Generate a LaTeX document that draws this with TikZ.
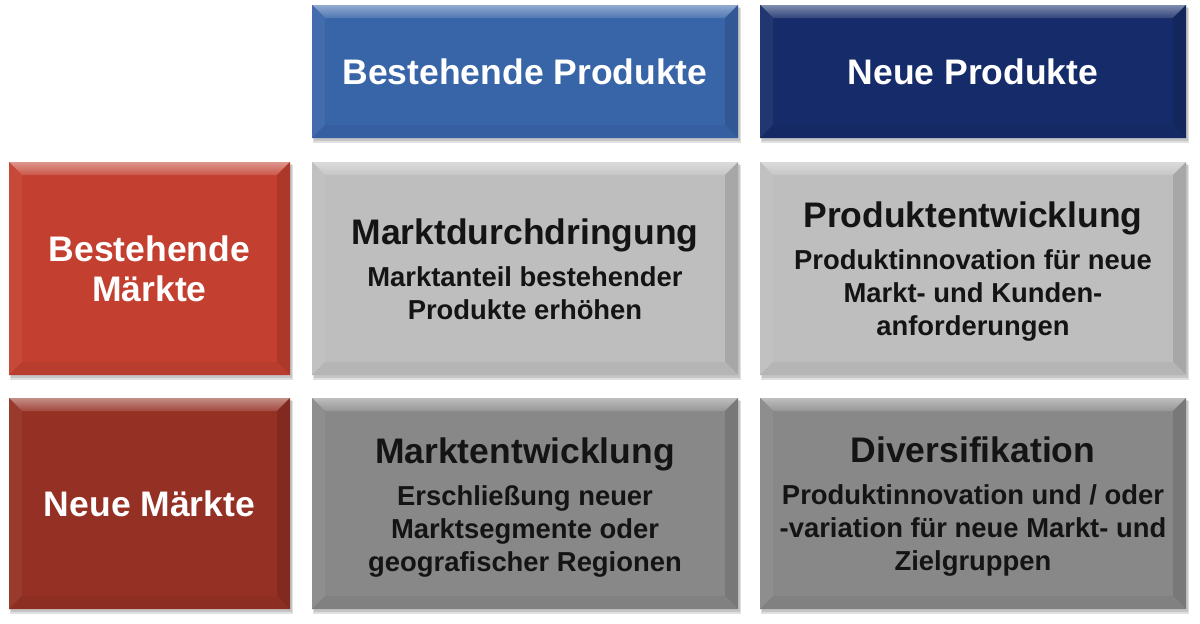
\documentclass[tikz,border=0pt]{standalone}
\usepackage{fontspec}
\setmainfont{Liberation Sans}

% colours of the matrix fields
\definecolor{hdrblue}{RGB}{56,100,168}
\definecolor{hdrnavy}{RGB}{22,44,106}
\definecolor{mktred}{RGB}{195,64,48}
\definecolor{mktdark}{RGB}{148,48,36}
\definecolor{celllight}{RGB}{190,190,190}
\definecolor{celldark}{RGB}{136,136,136}

\newcommand{\titlefont}{\fontsize{35.5}{42}\selectfont\bfseries}
\newcommand{\subfont}{\fontsize{27.4}{33}\selectfont\bfseries}

\tikzset{
    headtext/.style={text=white, align=center, font=\titlefont},
    celltext/.style={text=black!92, align=center, font=\subfont}
}

\begin{document}
\begin{tikzpicture}[x=1pt, y=-1pt]
    \useasboundingbox (0,0) rectangle (1200,624);
    \def\bev{13}

    % bevelled boxes: x1/y1/x2/y2/colour
    \foreach \xa/\ya/\xb/\yb/\col in {
        312/5/738/138/hdrblue, 760/5/1186/138/hdrnavy,
        9/162/290/375/mktred, 9/398/290/609/mktdark,
        312/162/738/375/celllight, 760/162/1186/375/celllight,
        312/398/738/609/celldark, 760/398/1186/609/celldark} {
        % soft shadow
        \fill[black, opacity=0.12] (\xa+1,\ya+3) rectangle (\xb+3,\yb+5);
        \fill[black, opacity=0.12] (\xa+2,\ya+2) rectangle (\xb+2,\yb+3);
        % face
        \fill[\col] (\xa,\ya) rectangle (\xb,\yb);
        % top bevel (highlight)
        \shade[top color=\col!55!white, bottom color=\col!88!white]
            (\xa,\ya) -- (\xb,\ya) -- (\xb-\bev,\ya+\bev) -- (\xa+\bev,\ya+\bev) -- cycle;
        % left, right and bottom bevels
        \fill[\col!95!white] (\xa,\ya) -- (\xa+\bev,\ya+\bev) -- (\xa+\bev,\yb-\bev) -- (\xa,\yb) -- cycle;
        \fill[\col!88!black] (\xb,\ya) -- (\xb-\bev,\ya+\bev) -- (\xb-\bev,\yb-\bev) -- (\xb,\yb) -- cycle;
        \fill[\col!95!black] (\xa,\yb) -- (\xa+\bev,\yb-\bev) -- (\xb-\bev,\yb-\bev) -- (\xb,\yb) -- cycle;
    }

    % column heads
    \node[headtext] (prodold) at (525,71.5) {Bestehende Produkte};
    \node[headtext] (prodnew) at (973,71.5) {Neue Produkte};

    % row heads
    \node[headtext] (mktold) at (149.5,268.5) {Bestehende\\[-2pt]Märkte};
    \node[headtext] (mktnew) at (149.5,503.5) {Neue Märkte};

    % strategy fields
    \node[celltext] (penetration) at (525,269.5)
        {{\titlefont Marktdurchdringung}\\[9pt]Marktanteil bestehender\\Produkte erhöhen};
    \node[celltext] (proddev) at (973,272)
        {{\titlefont Produktentwicklung}\\[9pt]Produktinnovation für neue\\Markt- und Kunden-\\anforderungen};
    \node[celltext] (mktdev) at (525,508)
        {{\titlefont Marktentwicklung}\\[9pt]Erschließung neuer\\Marktsegmente oder\\geografischer Regionen};
    \node[celltext] (diversify) at (973,507)
        {{\titlefont Diversifikation}\\[9pt]Produktinnovation und / oder\\-variation für neue Markt- und\\Zielgruppen};
\end{tikzpicture}
\end{document}
